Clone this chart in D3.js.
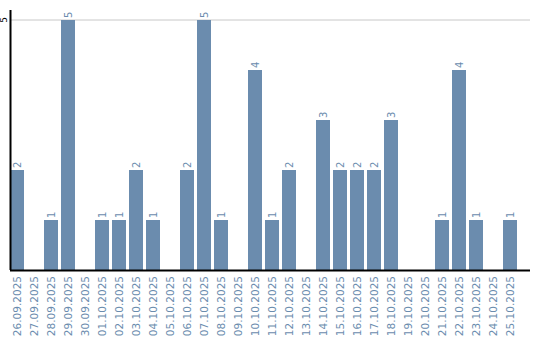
<!DOCTYPE html>
<html>
<head>
<meta charset="utf-8">
<script src="https://cdn.jsdelivr.net/npm/d3@7"></script>
<style>
  body { margin: 0; background: #fff; }
  text { font-family: "DejaVu Sans", sans-serif; }
</style>
</head>
<body>
<div id="chart"></div>
<script>
const dates = ["26.09.2025", "27.09.2025", "28.09.2025", "29.09.2025", "30.09.2025",
    "01.10.2025", "02.10.2025", "03.10.2025", "04.10.2025", "05.10.2025",
    "06.10.2025", "07.10.2025", "08.10.2025", "09.10.2025", "10.10.2025",
    "11.10.2025", "12.10.2025", "13.10.2025", "14.10.2025", "15.10.2025",
    "16.10.2025", "17.10.2025", "18.10.2025", "19.10.2025", "20.10.2025",
    "21.10.2025", "22.10.2025", "23.10.2025", "24.10.2025", "25.10.2025"]
const counts = [2, 0, 1, 5, 0, 1, 1, 2, 1, 0, 2, 5, 1, 0, 4, 1, 2, 0, 3, 2, 2, 2, 3, 0, 0, 1, 4, 1, 0, 1]
const yTicks = [5]

const width = 540, height = 340
const barColor = '#6b8cae'

const svg = d3.select('#chart')
    .append('svg')
    .attr('width', width)
    .attr('height', height)

const x = d3.scaleBand()
    .domain(dates)
    .range([10, 517])
    .paddingInner(3 / 17)
    .paddingOuter(0)

const y = d3.scaleLinear()
    .domain([0, 5.2])
    .range([270, 10])

// gridlines
svg.selectAll('.grid')
    .data(yTicks)
    .enter()
    .append('line')
    .attr('x1', 10).attr('x2', 530)
    .attr('y1', d => y(d)).attr('y2', d => y(d))
    .style('stroke', '#c8c8c8')
    .style('stroke-width', 1)

// bars
svg.selectAll('.bar')
    .data(dates)
    .enter()
    .append('rect')
    .attr('x', d => x(d))
    .attr('width', x.bandwidth())
    .attr('y', (d, i) => y(counts[i]))
    .attr('height', (d, i) => y(0) - y(counts[i]))
    .style('fill', barColor)

// value labels
svg.selectAll('.val')
    .data(dates.filter((d, i) => counts[i] > 0))
    .enter()
    .append('text')
    .attr('transform', d => {
        let v = counts[dates.indexOf(d)]
        return `translate(${x(d) + x.bandwidth() / 2 + 3.5}, ${y(v) - 2}) rotate(-90)`
    })
    .style('font-size', '10px')
    .style('fill', barColor)
    .text(d => counts[dates.indexOf(d)])

// axis lines
svg.append('line')
    .attr('x1', 10.5).attr('x2', 10.5)
    .attr('y1', 10).attr('y2', 270)
    .style('stroke', '#000').style('stroke-width', 2)
svg.append('line')
    .attr('x1', 10).attr('x2', 530)
    .attr('y1', 270.5).attr('y2', 270.5)
    .style('stroke', '#000').style('stroke-width', 2)

// y tick labels
svg.selectAll('.ytick')
    .data(yTicks)
    .enter()
    .append('text')
    .attr('transform', d => `translate(7, ${y(d)}) rotate(-90)`)
    .attr('text-anchor', 'middle')
    .style('font-size', '9px')
    .style('fill', '#000')
    .text(d => d)

// x labels
svg.selectAll('.xlabel')
    .data(dates)
    .enter()
    .append('text')
    .attr('transform', d => `translate(${x(d) + x.bandwidth() / 2 + 4}, 276) rotate(-90)`)
    .attr('text-anchor', 'end')
    .style('font-size', '10.5px')
    .style('fill', barColor)
    .text(d => d)
</script>
</body>
</html>
